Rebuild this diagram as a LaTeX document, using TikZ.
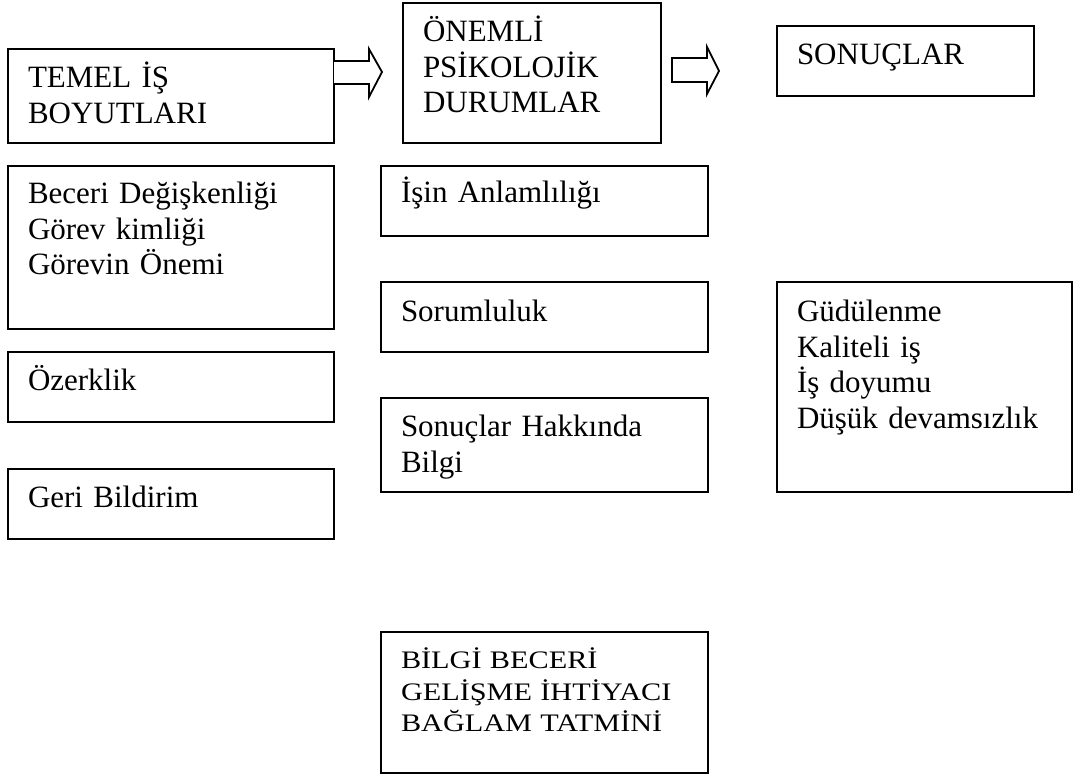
\documentclass[tikz,border=0pt]{standalone}
\usepackage{fontspec}
\setmainfont{Liberation Serif}
\newfontfamily\basikfont[FakeStretch=1.2]{Liberation Serif}

\begin{document}
\begin{tikzpicture}
  [x=0.5pt,y=-0.5pt,
   kutu/.style={draw,line width=0.9pt,anchor=north west,outer sep=0pt,
                inner xsep=10pt,inner ysep=0pt,align=left,
                font=\fontsize{15.5}{17.75}\selectfont},
   okN/.style={draw,line width=0.9pt,fill=white,line join=miter}
  ]
  \useasboundingbox (0,0) rectangle (1073,774);

  \node[kutu,text width=143pt,text height=19.5pt,text depth=27.5pt] (temel) at (8,49) {TEMEL İŞ\\BOYUTLARI};
  \node[kutu,text width=109pt,text height=19.5pt,text depth=50.5pt] (onemli) at (403,3) {ÖNEMLİ\\PSİKOLOJİK\\DURUMLAR};
  \node[kutu,text width=108.5pt,text height=19.5pt,text depth=15.5pt] (sonuclar) at (777,26) {SONUÇLAR};

  \node[kutu,text width=143pt,text height=19pt,text depth=62.5pt] (beceri) at (8,166) {Beceri Değişkenliği\\Görev kimliği\\Görevin Önemi};
  \node[kutu,text width=143pt,text height=19.5pt,text depth=15.5pt] (ozerklik) at (8,352) {Özerklik};
  \node[kutu,text width=143pt,text height=19.5pt,text depth=15.5pt] (geri) at (8,469) {Geri Bildirim};

  \node[kutu,text width=143.5pt,text height=18.5pt,text depth=16.5pt] (anlam) at (381,166) {İşin Anlamlılığı};
  \node[kutu,text width=143.5pt,text height=20pt,text depth=15pt] (sorum) at (381,282) {Sorumluluk};
  \node[kutu,text width=143.5pt,text height=19.5pt,text depth=27.5pt] (hakkinda) at (381,398) {Sonuçlar Hakkında\\Bilgi};

  \node[kutu,text width=127.5pt,text height=20pt,text depth=85pt] (gudulenme) at (777,282) {Güdülenme\\Kaliteli iş\\İş doyumu\\Düşük devamsızlık};

  \node[kutu,text width=143.5pt,text height=18.5pt,text depth=52pt,
        font=\basikfont\fontsize{12.6}{15.75}\selectfont] (bilgi) at (381,632) {BİLGİ BECERİ\\GELİŞME İHTİYACI\\BAĞLAM TATMİNİ};

  \draw[okN] (temel.north east) ++(0,12) -- ++(35,0) -- ++(0,-12) -- ++(13,23)
     -- ++(-13,25) -- ++(0,-13) -- ++(-35,0);
  \draw[okN] (onemli.north east) ++(11,55) -- ++(35,0) -- ++(0,-11) -- ++(12,24)
     -- ++(-12,23) -- ++(0,-12) -- ++(-35,0) -- cycle;

\end{tikzpicture}
\end{document}
